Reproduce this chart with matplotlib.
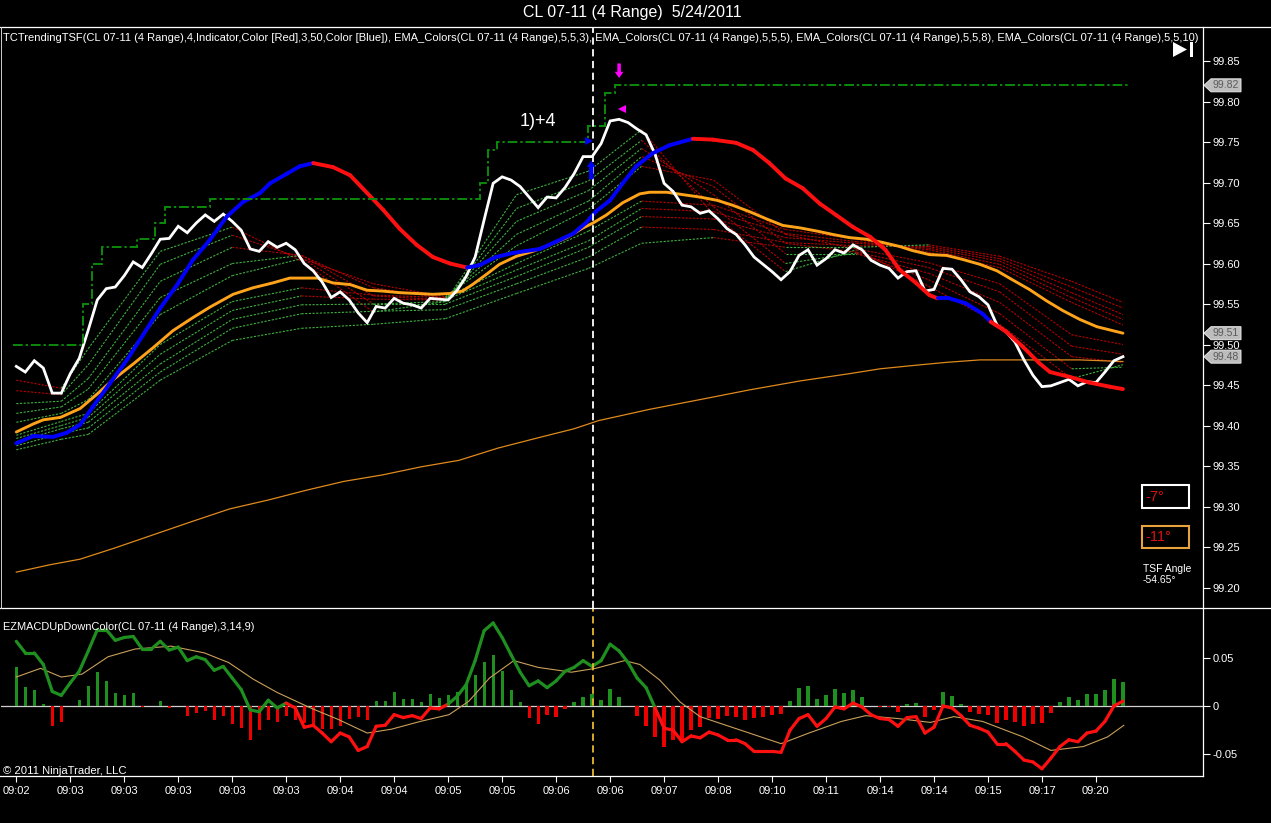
import numpy as np
import matplotlib
matplotlib.use("Agg")
import matplotlib.pyplot as plt
from matplotlib.collections import LineCollection
from matplotlib.patches import Polygon, Rectangle
from matplotlib.lines import Line2D
from matplotlib.ticker import FormatStrFormatter

plt.rcParams['font.family'] = ['Liberation Sans', 'DejaVu Sans']

# ---------------------------------------------------------------- data
title = 'CL 07-11 (4 Range)  5/24/2011'
header = ('TCTrendingTSF(CL 07-11 (4 Range),4,Indicator,Color [Red],3,50,Color [Blue]), '
          'EMA_Colors(CL 07-11 (4 Range),5,5,3), EMA_Colors(CL 07-11 (4 Range),5,5,5), '
          'EMA_Colors(CL 07-11 (4 Range),5,5,8), EMA_Colors(CL 07-11 (4 Range),5,5,10)')
macd_label = 'EZMACDUpDownColor(CL 07-11 (4 Range),3,14,9)'
copyright_text = '\u00a9 2011 NinjaTrader, LLC'

time_labels = ['09:02', '09:03', '09:03', '09:03', '09:03', '09:03', '09:04', '09:04',
               '09:05', '09:05', '09:06', '09:06', '09:07', '09:08', '09:10', '09:11',
               '09:14', '09:14', '09:15', '09:17', '09:20']
tick_bars = list(range(0, 121, 6))

# close price (white line), one value per bar
close = [99.473, 99.466, 99.480, 99.471, 99.440, 99.440, 99.464, 99.483, 99.518, 99.555,
         99.569, 99.571, 99.585, 99.602, 99.595, 99.612, 99.630, 99.631, 99.646, 99.638,
         99.650, 99.660, 99.652, 99.661, 99.652, 99.641, 99.618, 99.615, 99.627, 99.620,
         99.625, 99.617, 99.600, 99.591, 99.577, 99.558, 99.565, 99.555, 99.539, 99.527,
         99.547, 99.545, 99.557, 99.551, 99.549, 99.545, 99.557, 99.556, 99.555, 99.567,
         99.584, 99.608, 99.654, 99.699, 99.707, 99.703, 99.695, 99.682, 99.669, 99.682,
         99.681, 99.694, 99.711, 99.732, 99.732, 99.748, 99.776, 99.778, 99.774, 99.766,
         99.759, 99.735, 99.699, 99.689, 99.672, 99.670, 99.662, 99.665, 99.655, 99.643,
         99.636, 99.623, 99.608, 99.599, 99.590, 99.580, 99.590, 99.610, 99.617, 99.598,
         99.606, 99.617, 99.613, 99.623, 99.617, 99.604, 99.598, 99.594, 99.582, 99.590,
         99.591, 99.566, 99.568, 99.594, 99.593, 99.580, 99.565, 99.559, 99.549, 99.524,
         99.516, 99.503, 99.481, 99.462, 99.448, 99.449, 99.453, 99.457, 99.449, 99.454,
         99.453, 99.466, 99.480, 99.485]

# TCTrendingTSF line
tsf_x = [0, 1.9, 4.1, 5.6, 7.1, 8.5, 10.4, 12.3, 14.1, 16.0,
         17.9, 19.6, 21.5, 23.4, 25.2, 27.1, 28.2, 30.1, 31.5, 33.0,
         35.2, 37.1, 39.0, 40.8, 42.6, 44.5, 46.3, 48.2, 50.1, 51.5,
         53.3, 55.2, 58.2, 60.0, 61.9, 63.3, 64.4, 66.0, 67.4, 68.9,
         70.7, 72.6, 75.2, 77.4, 80.0, 81.9, 83.7, 85.5, 87.4, 89.3,
         91.1, 93.0, 94.9, 96.6, 98.2, 100.0, 101.5, 102.4, 103.7, 105.5,
         107.4, 108.3, 110.0, 111.9, 113.7, 114.9, 117.1, 119.3, 121.5, 123.0]
tsf_v = [99.378, 99.387, 99.386, 99.391, 99.401, 99.423, 99.452, 99.481, 99.512, 99.545,
         99.574, 99.604, 99.629, 99.658, 99.676, 99.687, 99.699, 99.711, 99.720, 99.724,
         99.719, 99.709, 99.687, 99.666, 99.643, 99.623, 99.608, 99.600, 99.595, 99.598,
         99.608, 99.613, 99.618, 99.627, 99.637, 99.650, 99.664, 99.678, 99.699, 99.720,
         99.736, 99.746, 99.754, 99.753, 99.749, 99.740, 99.724, 99.705, 99.693, 99.674,
         99.660, 99.645, 99.633, 99.617, 99.592, 99.576, 99.561, 99.557, 99.557, 99.551,
         99.538, 99.528, 99.516, 99.497, 99.477, 99.466, 99.460, 99.453, 99.448, 99.445]
tsf_turns = [33.0, 50.1, 75.2, 102.4, 108.3]   # trend flips (starts 'up')

# thick orange EMA
ema_x = [0, 1.9, 3.0, 4.9, 7.1, 9.0, 10.7, 13.0, 15.2, 17.4,
         19.6, 21.5, 24.1, 26.3, 28.5, 30.4, 33.5, 35.2, 37.1, 39.0,
         40.7, 42.6, 44.5, 46.3, 48.2, 49.6, 50.7, 52.3, 53.7, 55.6,
         57.4, 59.3, 61.2, 63.0, 64.1, 65.6, 67.4, 69.3, 70.4, 72.3,
         74.1, 76.0, 77.9, 79.6, 81.5, 83.4, 85.2, 87.1, 89.0, 90.7,
         92.6, 94.5, 96.3, 98.2, 99.6, 101.5, 103.4, 105.2, 107.1, 109.0,
         110.7, 112.6, 114.5, 116.3, 118.2, 120.1, 121.9, 123.0]
ema_v = [99.392, 99.402, 99.407, 99.410, 99.421, 99.439, 99.456, 99.476, 99.496, 99.517,
         99.533, 99.546, 99.562, 99.570, 99.576, 99.582, 99.582, 99.576, 99.574, 99.567,
         99.566, 99.564, 99.563, 99.562, 99.563, 99.566, 99.574, 99.587, 99.599, 99.609,
         99.615, 99.623, 99.632, 99.644, 99.650, 99.660, 99.675, 99.686, 99.688, 99.688,
         99.685, 99.682, 99.678, 99.672, 99.664, 99.655, 99.647, 99.644, 99.640, 99.636,
         99.632, 99.630, 99.626, 99.621, 99.616, 99.611, 99.610, 99.605, 99.599, 99.591,
         99.580, 99.568, 99.554, 99.542, 99.531, 99.522, 99.517, 99.514]

# thin orange long EMA
slow_x = [0, 3.7, 7.1, 11.0, 15.2, 19.4, 23.7, 28.0, 32.2, 36.4,
          40.7, 45.0, 49.2, 53.5, 57.7, 62.0, 64.7, 70.4, 76.0, 81.5,
          87.1, 92.6, 96.0, 99.6, 103.4, 107.1, 110.7, 114.5, 118.2, 123.0]
slow_v = [99.219, 99.228, 99.235, 99.249, 99.265, 99.281, 99.297, 99.308, 99.320, 99.331,
          99.339, 99.349, 99.357, 99.372, 99.384, 99.396, 99.406, 99.420, 99.432, 99.444,
          99.455, 99.464, 99.470, 99.474, 99.478, 99.481, 99.481, 99.481, 99.481, 99.479]

# EMA ribbon (fast f1..f5, slow s1..s5), sampled columns
rib_x = [0, 5, 8, 16, 24, 31.7, 39.7, 47.7, 55.6, 63.6, 69.5, 77.5, 85.5, 93.4, 101.4, 109.3, 117.3, 123]
rib_f1 = [99.456, 99.446, 99.495, 99.615, 99.645, 99.603, 99.540, 99.553, 99.685, 99.714, 99.765, 99.660, 99.590, 99.617, 99.572, 99.525, 99.458, 99.475]
rib_f2 = [99.443, 99.438, 99.475, 99.599, 99.635, 99.607, 99.550, 99.553, 99.668, 99.702, 99.752, 99.670, 99.600, 99.613, 99.580, 99.538, 99.470, 99.472]
rib_f3 = [99.427, 99.430, 99.458, 99.578, 99.620, 99.610, 99.560, 99.555, 99.652, 99.690, 99.742, 99.685, 99.612, 99.612, 99.588, 99.552, 99.485, 99.478]
rib_f4 = [99.415, 99.423, 99.445, 99.558, 99.600, 99.610, 99.570, 99.557, 99.636, 99.677, 99.732, 99.695, 99.625, 99.614, 99.595, 99.565, 99.498, 99.488]
rib_f5 = [99.404, 99.415, 99.432, 99.537, 99.585, 99.606, 99.575, 99.559, 99.622, 99.667, 99.720, 99.703, 99.636, 99.618, 99.601, 99.575, 99.512, 99.500]
rib_s1 = [99.388, 99.405, 99.415, 99.500, 99.553, 99.570, 99.561, 99.558, 99.600, 99.640, 99.677, 99.672, 99.642, 99.630, 99.614, 99.595, 99.552, 99.524]
rib_s2 = [99.384, 99.400, 99.410, 99.488, 99.542, 99.560, 99.556, 99.555, 99.592, 99.628, 99.668, 99.664, 99.637, 99.627, 99.617, 99.599, 99.558, 99.531]
rib_s3 = [99.380, 99.396, 99.404, 99.476, 99.531, 99.549, 99.550, 99.550, 99.584, 99.620, 99.658, 99.655, 99.632, 99.625, 99.619, 99.603, 99.564, 99.537]
rib_s4 = [99.375, 99.390, 99.397, 99.466, 99.520, 99.538, 99.541, 99.543, 99.575, 99.608, 99.645, 99.642, 99.626, 99.622, 99.621, 99.606, 99.571, 99.545]
rib_s5 = [99.370, 99.383, 99.389, 99.456, 99.505, 99.520, 99.525, 99.532, 99.563, 99.594, 99.625, 99.632, 99.620, 99.620, 99.623, 99.609, 99.578, 99.552]

# green dash-dot step line
step_edges = [-0.4, 7.4, 8.4, 9.5, 13.4, 15.4, 16.5, 21.5, 51.5, 52.4, 53.4, 63.5, 65.4, 66.5, 123.7]
step_levels = [99.50, 99.55, 99.60, 99.62, 99.63, 99.65, 99.67, 99.68, 99.70, 99.74, 99.75, 99.77, 99.81, 99.82]

# right-axis price markers
mark_vals = [99.82, 99.514, 99.485]
mark_labels = ['99.82', '99.51', '99.48']

# signal bar / annotations
signal_bar = 64.05
note_text = '1)+4'
note_pos = (58.0, 99.775)
down_arrow = (67.0, 99.847, 99.829)
up_arrow = (63.9, 99.704, 99.727)
tri_left = (67.3, 99.791)
tri_right = (63.6, 99.751)

angle_values = [-7, -11]
tsf_angle = -54.65

# MACD panel
macd = [0.067, 0.055, 0.055, 0.043, 0.015, 0.011, 0.024, 0.036, 0.057, 0.079,
        0.079, 0.068, 0.071, 0.072, 0.059, 0.059, 0.067, 0.058, 0.061, 0.047,
        0.051, 0.048, 0.037, 0.041, 0.029, 0.017, -0.004, -0.006, 0.006, -0.002,
        0.003, -0.002, -0.022, -0.020, -0.028, -0.037, -0.028, -0.032, -0.046, -0.042,
        -0.021, -0.020, -0.009, -0.012, -0.010, -0.013, -0.002, -0.003, 0.002, 0.010,
        0.022, 0.047, 0.078, 0.086, 0.071, 0.053, 0.035, 0.021, 0.026, 0.019,
        0.026, 0.036, 0.040, 0.047, 0.041, 0.047, 0.064, 0.057, 0.045, 0.029,
        0.019, -0.002, -0.023, -0.025, -0.037, -0.031, -0.033, -0.027, -0.030, -0.035,
        -0.035, -0.039, -0.047, -0.047, -0.047, -0.048, -0.025, -0.013, -0.009, -0.021,
        -0.013, -0.001, -0.003, 0.003, -0.001, -0.009, -0.013, -0.014, -0.021, -0.012,
        -0.011, -0.028, -0.022, 0.000, -0.002, -0.010, -0.020, -0.023, -0.027, -0.039,
        -0.039, -0.047, -0.056, -0.058, -0.065, -0.054, -0.042, -0.035, -0.037, -0.028,
        -0.026, -0.016, 0.000, 0.005]
macd_turns = [30.0, 48.0, 70.9]   # colour flips (starts green)

sig_x = [0, 2.7, 5.0, 7.3, 10.2, 13.2, 17.2, 20.9, 23.6, 26.3,
         29.0, 32.7, 35.8, 39.0, 41.7, 44.9, 48.1, 50.3, 52.6, 55.3,
         58.0, 61.7, 64.4, 67.6, 69.3, 71.5, 73.8, 76.0, 80.5, 85.0,
         88.1, 91.7, 94.4, 98.0, 101.6, 104.2, 107.4, 111.9, 115.0, 118.6,
         121.3, 123.1]
sig_v = [0.030, 0.039, 0.030, 0.033, 0.051, 0.059, 0.062, 0.055, 0.045, 0.028,
         0.014, -0.002, -0.014, -0.028, -0.024, -0.016, -0.009, 0.005, 0.029, 0.047,
         0.040, 0.035, 0.039, 0.047, 0.043, 0.027, 0.004, -0.011, -0.025, -0.039,
         -0.028, -0.016, -0.010, -0.013, -0.017, -0.011, -0.016, -0.032, -0.046, -0.042,
         -0.032, -0.020]

hist = [0.040, 0.020, 0.017, 0.002, -0.021, -0.017, 0.000, 0.006, 0.021, 0.035,
        0.026, 0.013, 0.011, 0.013, -0.001, 0.000, 0.005, -0.002, 0.000, -0.010,
        -0.007, -0.005, -0.015, -0.010, -0.019, -0.023, -0.035, -0.025, -0.014, -0.017,
        -0.010, -0.015, -0.018, -0.020, -0.024, -0.024, -0.021, -0.013, -0.011, -0.015,
        0.005, 0.005, 0.014, 0.007, 0.007, 0.004, 0.012, 0.008, 0.011, 0.015,
        0.022, 0.032, 0.046, 0.053, 0.036, 0.017, 0.004, -0.012, -0.019, -0.009,
        -0.011, -0.003, 0.004, 0.009, 0.012, 0.006, 0.018, 0.009, 0.000, -0.010,
        -0.021, -0.032, -0.042, -0.035, -0.037, -0.025, -0.022, -0.012, -0.013, -0.010,
        -0.011, -0.014, -0.012, -0.011, -0.009, -0.008, 0.005, 0.019, 0.021, 0.007,
        0.011, 0.018, 0.013, 0.017, 0.009, 0.000, -0.001, -0.001, -0.006, 0.002,
        0.003, -0.011, -0.004, 0.014, 0.010, 0.002, -0.006, -0.008, -0.009, -0.018,
        -0.014, -0.017, -0.021, -0.019, -0.018, -0.007, 0.004, 0.009, 0.006, 0.012,
        0.012, 0.017, 0.028, 0.025]

# ---------------------------------------------------------------- layout
W, H = 1271.0, 823.0
AX_L, AX_R = 1, 1203
UP_T, UP_B = 27, 608
LO_T, LO_B = 608, 776

fig = plt.figure(figsize=(W / 100, H / 100), dpi=100, facecolor='black')
ax = fig.add_axes([AX_L / W, 1 - UP_B / H, (AX_R - AX_L) / W, (UP_B - UP_T) / H])
ax2 = fig.add_axes([AX_L / W, 1 - LO_B / H, (AX_R - AX_L) / W, (LO_B - LO_T) / H])
for a in (ax, ax2):
    a.set_facecolor('black')
    for s in a.spines.values():
        s.set_visible(False)
    a.set_xlim(-1.7, 131.9)
ax.set_ylim(99.1747, 99.892)
ax2.set_ylim(-0.0725, 0.1015)

GREEN = '#1f8f1f'
RED = '#ff1010'
BLUE = '#0000ff'
ORANGE = '#ffa31a'


def colored_lc(x, y, turns, c_first, c_second, lw, z):
    x = np.asarray(x, float)
    y = np.asarray(y, float)
    pts = np.column_stack([x, y])
    segs = np.stack([pts[:-1], pts[1:]], axis=1)
    mids = (x[:-1] + x[1:]) / 2
    cols = [c_first if (np.searchsorted(turns, m) % 2 == 0) else c_second for m in mids]
    lc = LineCollection(segs, colors=cols, linewidths=lw, zorder=z)
    lc.set_capstyle('round')
    lc.set_joinstyle('round')
    return lc


# ---- ribbon
rib_lines = [rib_f1, rib_f2, rib_f3, rib_f4, rib_f5, rib_s1, rib_s2, rib_s3, rib_s4, rib_s5]
segs, cols = [], []
for line in rib_lines:
    for i in range(len(rib_x) - 1):
        segs.append([(rib_x[i], line[i]), (rib_x[i + 1], line[i + 1])])
        cols.append('#3fb03f' if line[i + 1] >= line[i] else '#b80000')
ax.add_collection(LineCollection(segs, colors=cols, linewidths=0.8,
                                 linestyles=[(0, (2.0, 1.3))], zorder=2))

ax.plot(slow_x, slow_v, color='#e08a1c', lw=0.9, zorder=2.5)
ax.plot(ema_x, ema_v, color=ORANGE, lw=2.1, zorder=3, solid_capstyle='round')
ax.plot(range(len(close)), close, color='white', lw=2.0, zorder=4, solid_joinstyle='miter')
ax.add_collection(colored_lc(tsf_x, tsf_v, tsf_turns, BLUE, RED, 2.8, 5))

ax.stairs(step_levels, step_edges, baseline=None, color='#0c8a0c', lw=1.4,
          linestyle=(0, (5, 1.5, 1.2, 1.5)), zorder=6)

ax.axvline(signal_bar, color='white', lw=1.3, ls=(0, (4, 2.5)), zorder=7)
ax2.axvline(signal_bar, color='#e8b830', lw=1.3, ls=(0, (4, 2.5)), zorder=7)

ax.text(note_pos[0], note_pos[1], note_text, color='white', fontsize=13,
        ha='center', va='center', zorder=8)
ax.annotate('', xy=(down_arrow[0], down_arrow[2]), xytext=(down_arrow[0], down_arrow[1]),
            arrowprops=dict(arrowstyle='simple,head_length=0.5,head_width=0.7,tail_width=0.28',
                            color='#ff00ff', lw=0, shrinkA=0, shrinkB=0, mutation_scale=9),
            zorder=8)
ax.annotate('', xy=(up_arrow[0], up_arrow[2]), xytext=(up_arrow[0], up_arrow[1]),
            arrowprops=dict(arrowstyle='simple,head_length=0.5,head_width=0.7,tail_width=0.35',
                            color=BLUE, lw=0, shrinkA=0, shrinkB=0, mutation_scale=9),
            zorder=8)
ax.plot([tri_left[0]], [tri_left[1]], marker='<', color='#ff00ff', ms=5.5, mew=0, zorder=8)
ax.plot([tri_right[0]], [tri_right[1]], marker='>', color=BLUE, ms=5.5, mew=0, zorder=8)

# ---- upper axis ticks
ax.set_xticks([])
ax.yaxis.tick_right()
ax.set_yticks(np.round(np.arange(99.20, 99.8501, 0.05), 2))
ax.yaxis.set_major_formatter(FormatStrFormatter('%.2f'))
ax.tick_params(axis='y', colors='white', labelcolor='white', labelsize=8,
               length=5, width=0.8, pad=2, direction='out')

# ---- price markers on axis
ylo, yhi = ax.get_ylim()
ppu = (UP_B - UP_T) / (yhi - ylo)
axw = AX_R - AX_L
ytr = ax.get_yaxis_transform()
for val, lab in zip(mark_vals, mark_labels):
    def P(dx, dy, v=val):
        return (1 + dx / axw, v - dy / ppu)
    verts = [P(1, 0), P(8, -6.5), P(38, -6.5), P(38, 6.5), P(8, 6.5)]
    ax.add_patch(Polygon(verts, closed=True, transform=ytr, facecolor='#bdbdbd',
                         edgecolor='#e6e6e6', lw=0.7, clip_on=False, zorder=10))
    ax.text(1 + 23 / axw, val, lab, transform=ytr, ha='center', va='center',
            fontsize=7.5, color='#5a5a5a', clip_on=False, zorder=11)

# ---- MACD panel
bars_x = np.arange(len(hist))
hcols = [GREEN if h >= 0 else '#ee0000' for h in hist]
ax2.bar(bars_x, hist, width=0.36, color=hcols, zorder=2)
ax2.axhline(0, color='#d0d0d0', lw=0.9, zorder=1.5)
ax2.plot(sig_x, sig_v, color='#c9a05a', lw=0.8, zorder=3)
ax2.add_collection(colored_lc(np.arange(len(macd)), macd, macd_turns, GREEN, RED, 2.3, 4))

ax2.yaxis.tick_right()
ax2.set_yticks([-0.05, 0, 0.05])
ax2.set_yticklabels(['-0.05', '0', '0.05'])
ax2.set_xticks(tick_bars)
ax2.set_xticklabels(time_labels)
ax2.tick_params(axis='y', colors='white', labelcolor='white', labelsize=8,
                length=5, width=0.8, pad=2, direction='out')
ax2.tick_params(axis='x', colors='white', labelcolor='white', labelsize=8,
                length=4, width=0.8, pad=3, direction='out')

# ---- frame lines
def fline(x0, y0, x1, y1, color='white', lw=0.9):
    fig.add_artist(Line2D([x0 / W, x1 / W], [1 - y0 / H, 1 - y1 / H], color=color,
                          lw=lw, transform=fig.transFigure))

fline(0, UP_T, W, UP_T)
fline(0, UP_B, W, UP_B)
fline(0, LO_B, AX_R, LO_B)
fline(AX_R, UP_T, AX_R, LO_B)
fline(1, UP_T, 1, UP_B, color='#cfcfcf', lw=0.7)

# ---- texts
fig.text(632 / W, 1 - 12.5 / H, title, color='white', fontsize=11.5, ha='center', va='center')
hdr = fig.text(3 / W, 1 - 38 / H, header, color='white', fontsize=8, ha='left', va='center')
lbl = fig.text(3 / W, 1 - 626.5 / H, macd_label, color='white', fontsize=8, ha='left', va='center')
cpy = fig.text(3 / W, 1 - 771 / H, copyright_text, color='white', fontsize=8, ha='left', va='center')
renderer = fig.canvas.get_renderer()
for t, target in ((hdr, 1199), (lbl, 254), (cpy, 124)):
    w = t.get_window_extent(renderer=renderer).width
    t.set_fontsize(t.get_fontsize() * target / w)

# angle boxes
def frect(x0, y0, x1, y1, ec):
    fig.add_artist(Rectangle((x0 / W, 1 - y1 / H), (x1 - x0) / W, (y1 - y0) / H,
                             transform=fig.transFigure, fill=False, edgecolor=ec, lw=1.5))

frect(1141.5, 485, 1189, 507.5, 'white')
frect(1141.5, 525.5, 1189, 548, '#e8a33c')
fig.text(1145 / W, 1 - 496.5 / H, f'{angle_values[0]}\u00b0', color='#dd1111', fontsize=10.5,
         ha='left', va='center')
fig.text(1145 / W, 1 - 537 / H, f'{angle_values[1]}\u00b0', color='#dd1111', fontsize=10.5,
         ha='left', va='center')
fig.text(1143 / W, 1 - 568.5 / H, 'TSF Angle', color='white', fontsize=7.5, ha='left', va='center')
fig.text(1143 / W, 1 - 580 / H, f'{tsf_angle:.2f}\u00b0', color='white', fontsize=7.5,
         ha='left', va='center')

# play-to-end icon
fig.add_artist(Polygon([(1173 / W, 1 - 42 / H), (1173 / W, 1 - 57 / H), (1187 / W, 1 - 49.5 / H)],
                       closed=True, transform=fig.transFigure, facecolor='white', edgecolor='none'))
fig.add_artist(Rectangle((1189.5 / W, 1 - 57 / H), 3 / W, 15 / H, transform=fig.transFigure,
                         facecolor='white', edgecolor='none'))

fig.savefig('out.png', dpi=100, facecolor='black')
